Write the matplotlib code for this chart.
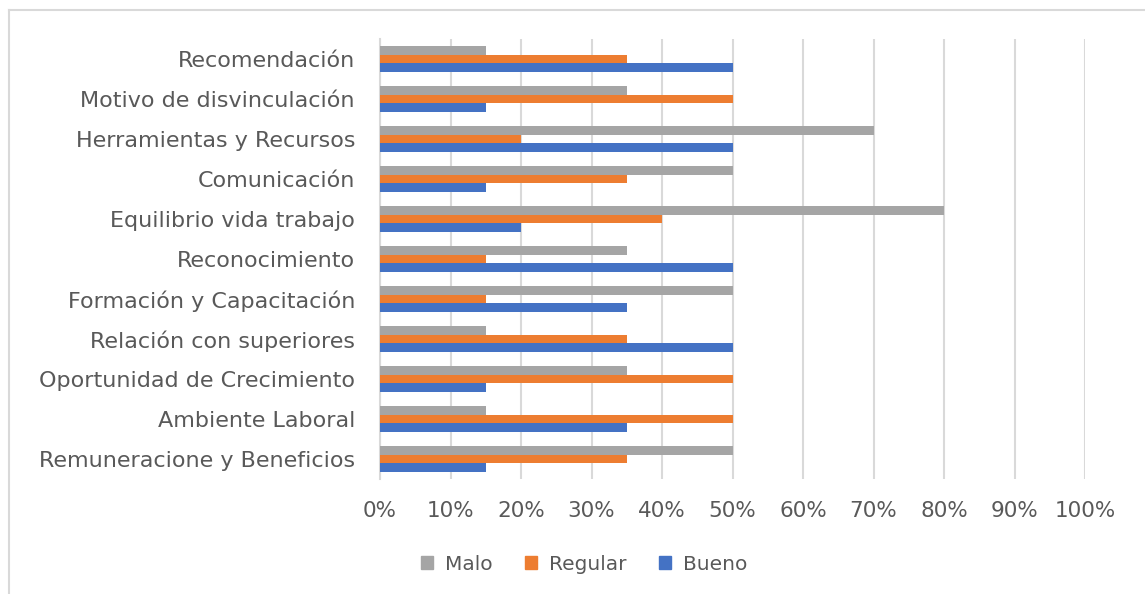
import numpy as np
import matplotlib.pyplot as plt
from matplotlib.lines import Line2D
from matplotlib.ticker import PercentFormatter

# ----------------------------
# Data (bottom to top)
# ----------------------------
categories = [
    "Remuneracione y Beneficios",
    "Ambiente Laboral",
    "Oportunidad de Crecimiento",
    "Relación con superiores",
    "Formación y Capacitación",
    "Reconocimiento",
    "Equilibrio vida trabajo",
    "Comunicación",
    "Herramientas y Recursos",
    "Motivo de disvinculación",
    "Recomendación",
]
malo = [50, 15, 35, 15, 50, 35, 80, 50, 70, 35, 15]
regular = [35, 50, 50, 35, 15, 15, 40, 35, 20, 50, 35]
bueno = [15, 35, 15, 50, 35, 50, 20, 15, 50, 15, 50]

series_names = ["Malo", "Regular", "Bueno"]
colors = ["#A5A5A5", "#ED7D31", "#4472C4"]
text_color = "#595959"
grid_color = "#D9D9D9"

# ----------------------------
# Plot
# ----------------------------
fig = plt.figure(figsize=(11.45, 5.94), dpi=100)
ax = fig.add_axes([380 / 1145, 115 / 594, 705 / 1145, 440 / 594])

y = np.arange(len(categories))
h = 0.217
for k, (vals, col) in enumerate(zip([malo, regular, bueno], colors)):
    ax.barh(y + (1 - k) * h, vals, height=h, color=col, label=series_names[k], zorder=3)

ax.set_xlim(0, 100)
ax.set_ylim(-0.5, len(categories) - 0.5)
ax.set_xticks(np.arange(0, 101, 10))
ax.xaxis.set_major_formatter(PercentFormatter(decimals=0))
ax.set_yticks(y)
ax.set_yticklabels(categories, fontsize=16)

ax.grid(axis="x", color=grid_color, linewidth=1.5, zorder=0)
for s in ["top", "right", "bottom"]:
    ax.spines[s].set_visible(False)
ax.spines["left"].set_color(grid_color)
ax.spines["left"].set_linewidth(1.5)
ax.tick_params(axis="both", length=0, labelcolor=text_color)
ax.tick_params(axis="x", pad=16, labelsize=15.5)
ax.tick_params(axis="y", pad=18)

# legend
handles = [plt.Rectangle((0, 0), 1, 1, color=c) for c in colors]
fig.legend(handles, series_names, loc="center", bbox_to_anchor=(0.51, 30 / 594),
           ncol=3, frameon=False, fontsize=14.5, labelcolor=text_color,
           handlelength=0.6, handleheight=0.6, columnspacing=1.6, handletextpad=0.6)

# chart area border (top and left visible)
fig.add_artist(Line2D([9 / 1145, 9 / 1145], [0, 1 - 10 / 594], color=grid_color, linewidth=1.5))
fig.add_artist(Line2D([9 / 1145, 1], [1 - 10 / 594, 1 - 10 / 594], color=grid_color, linewidth=1.5))

fig.savefig("out.png", dpi=100)
